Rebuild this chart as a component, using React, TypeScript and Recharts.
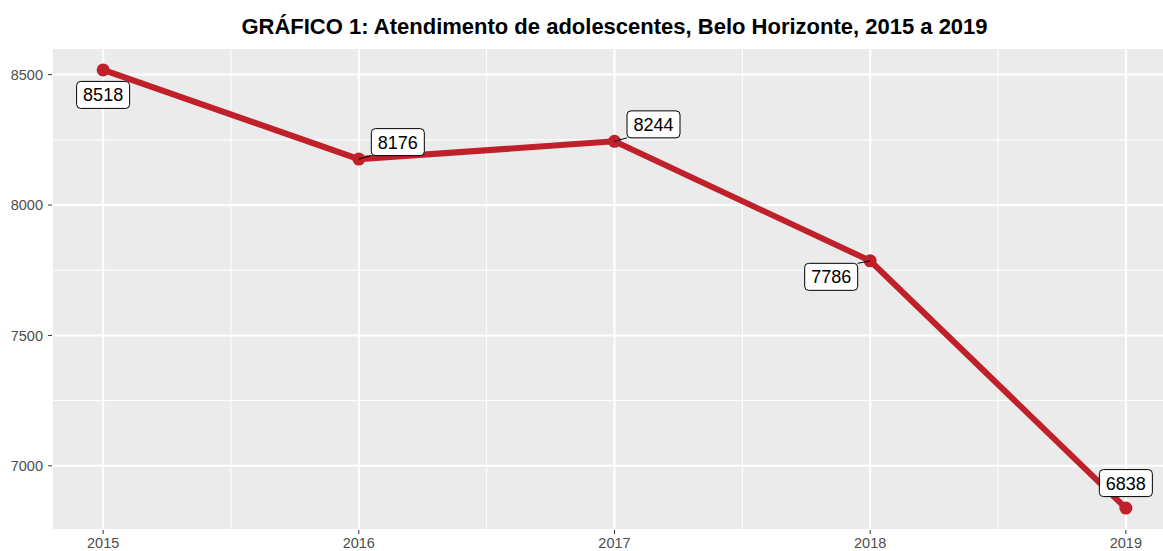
import { LineChart, Line, XAxis, YAxis, CartesianGrid, LabelList } from 'recharts';

const years = [2015, 2016, 2017, 2018, 2019];
const atendimentos = [8518, 8176, 8244, 7786, 6838];
const xTicks = [2015, 2016, 2017, 2018, 2019];
const yTicks = [7000, 7500, 8000, 8500];
const xMinor = [2015.5, 2016.5, 2017.5, 2018.5];
const yMinor = [7250, 7750, 8250];
// repelled label placement (box centre relative to its point)
const labelShift = [
  [0, 25],
  [39, -17],
  [39, -17],
  [-39, 16],
  [0, -25],
];

const data = years.map((ano, i) => ({ ano, valor: atendimentos[i] }));

const RED = '#C0202A';
const FONT = '"Liberation Sans", Arial, sans-serif';

const RepelLabel = (props: any) => {
  const { x, y, value, index } = props;
  const [dx, dy] = labelShift[index];
  const w = 53;
  const h = 27;
  const cx = x + dx;
  const cy = y + dy;
  const left = cx - w / 2;
  const top = cy - h / 2;
  // segment end on box edge nearest to the point
  const ex = Math.max(left, Math.min(x, left + w));
  const ey = Math.max(top, Math.min(y, top + h));
  const dist = Math.hypot(ex - x, ey - y);
  return (
    <g>
      {dist > 12 && <line x1={x} y1={y} x2={ex} y2={ey} stroke="#000" strokeWidth={1} />}
      <rect x={left} y={top} width={w} height={h} rx={4} fill="#fff" stroke="#000" strokeWidth={1} />
      <text x={cx} y={cy + 6.5} textAnchor="middle" fontSize={18} fontFamily={FONT} fill="#000">
        {value}
      </text>
    </g>
  );
};

export default function App() {
  return (
    <div style={{ position: 'absolute', left: 0, top: 0, width: 1163, height: 551, overflow: 'hidden', background: '#fff' }}>
      <div
        style={{
          position: 'absolute',
          left: 52,
          top: 13,
          width: 1125,
          textAlign: 'center',
          fontFamily: FONT,
          fontWeight: 'bold',
          fontSize: 22,
          lineHeight: '28px',
          color: '#000',
        }}
      >
        GRÁFICO 1: Atendimento de adolescentes, Belo Horizonte, 2015 a 2019
      </div>
      <LineChart width={1182} height={551} data={data} margin={{ top: 48, right: 5, bottom: 0, left: 0 }}>
        <CartesianGrid
          fill="#EBEBEB"
          fillOpacity={1}
          stroke="#FFFFFF"
          strokeWidth={1}
          horizontalValues={yMinor}
          verticalValues={xMinor}
        />
        <CartesianGrid stroke="#FFFFFF" strokeWidth={2} />
        <XAxis
          dataKey="ano"
          type="number"
          domain={[2014.8, 2019.2]}
          ticks={xTicks}
          height={21}
          axisLine={false}
          tickLine={{ stroke: '#333333' }}
          tickSize={4}
          tickMargin={4}
          tick={{ fill: '#4D4D4D', fontSize: 14.5, fontFamily: FONT }}
          interval={0}
        />
        <YAxis
          type="number"
          domain={[6754, 8602]}
          ticks={yTicks}
          width={52}
          axisLine={false}
          tickLine={{ stroke: '#333333' }}
          tickSize={4}
          tickMargin={5}
          tick={{ fill: '#4D4D4D', fontSize: 14.5, fontFamily: FONT }}
          interval={0}
        />
        <Line
          type="linear"
          dataKey="valor"
          stroke={RED}
          strokeWidth={6}
          dot={{ r: 6.5, fill: RED, stroke: RED, strokeWidth: 0 }}
          activeDot={false}
          isAnimationActive={false}
        >
          <LabelList dataKey="valor" content={RepelLabel} />
        </Line>
      </LineChart>
    </div>
  );
}
